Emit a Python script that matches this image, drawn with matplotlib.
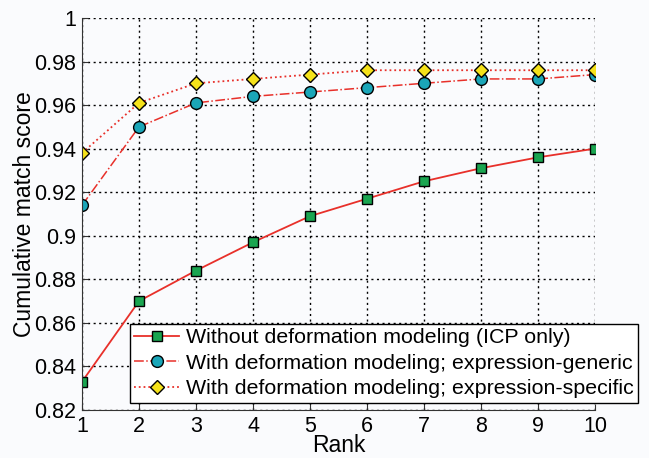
import numpy as np
import matplotlib
matplotlib.use("Agg")
import matplotlib.pyplot as plt

plt.rcParams['font.family'] = ['Liberation Sans', 'DejaVu Sans']

rank = [1, 2, 3, 4, 5, 6, 7, 8, 9, 10]
icp_only = [0.833, 0.870, 0.884, 0.897, 0.909, 0.917, 0.925, 0.931, 0.936, 0.940]
expr_generic = [0.914, 0.950, 0.961, 0.964, 0.966, 0.968, 0.970, 0.972, 0.972, 0.974]
expr_specific = [0.938, 0.961, 0.970, 0.972, 0.974, 0.976, 0.976, 0.976, 0.976, 0.976]
labels = ["Without deformation modeling (ICP only)",
          "With deformation modeling; expression-generic",
          "With deformation modeling; expression-specific"]
yticks = [0.82, 0.84, 0.86, 0.88, 0.9, 0.92, 0.94, 0.96, 0.98, 1]
ytick_labels = ["0.82", "0.84", "0.86", "0.88", "0.9", "0.92", "0.94", "0.96", "0.98", "1"]

bg = "#fafbfd"
fig = plt.figure(figsize=(6.49, 4.58), dpi=100, facecolor=bg)
ax = fig.add_axes([0.1264, 0.1048, 0.7904, 0.856])
ax.set_facecolor(bg)

ax.plot(rank, icp_only, '-', color='#e8302a', lw=1.3, marker='s', ms=7,
        mfc='#1aa550', mec='black', mew=1.0, label=labels[0])
ax.plot(rank, expr_generic, '-.', color='#e8302a', lw=1.1, marker='o', ms=8.5,
        mfc='#1ba6b8', mec='black', mew=1.0, label=labels[1])
ax.plot(rank, expr_specific, ':', color='#e8302a', lw=1.3, marker='D', ms=7,
        mfc='#f5e21a', mec='black', mew=1.0, label=labels[2])

ax.set_xlim(1, 10)
ax.set_ylim(0.82, 1)
ax.set_xticks(rank)
ax.set_yticks(yticks)
ax.set_yticklabels(ytick_labels)
ax.grid(True, color='black', linestyle=(0, (1.5, 2.5)), linewidth=1.0)
ax.tick_params(direction='in', labelsize=15.5, color='#333333', length=4)
ax.tick_params(axis='y', pad=4)
ax.tick_params(axis='x', pad=4)
for s in ['top', 'right']:
    ax.spines[s].set_visible(False)
for s in ['left', 'bottom']:
    ax.spines[s].set_color('#333333')

ax.set_xlabel("Rank", fontsize=16.5, labelpad=-2)
ax.set_ylabel("Cumulative match score", fontsize=16.5, labelpad=-1)

leg = ax.legend(loc='lower left', bbox_to_anchor=(0.093, 0.018), borderaxespad=0,
                fontsize=15.4, fancybox=False, edgecolor='black', framealpha=1,
                facecolor='white', handlelength=2.1, handletextpad=0.3,
                labelspacing=0.3, borderpad=0.22)
leg.get_frame().set_linewidth(1.0)

fig.savefig("out.png", dpi=100, facecolor=bg)
